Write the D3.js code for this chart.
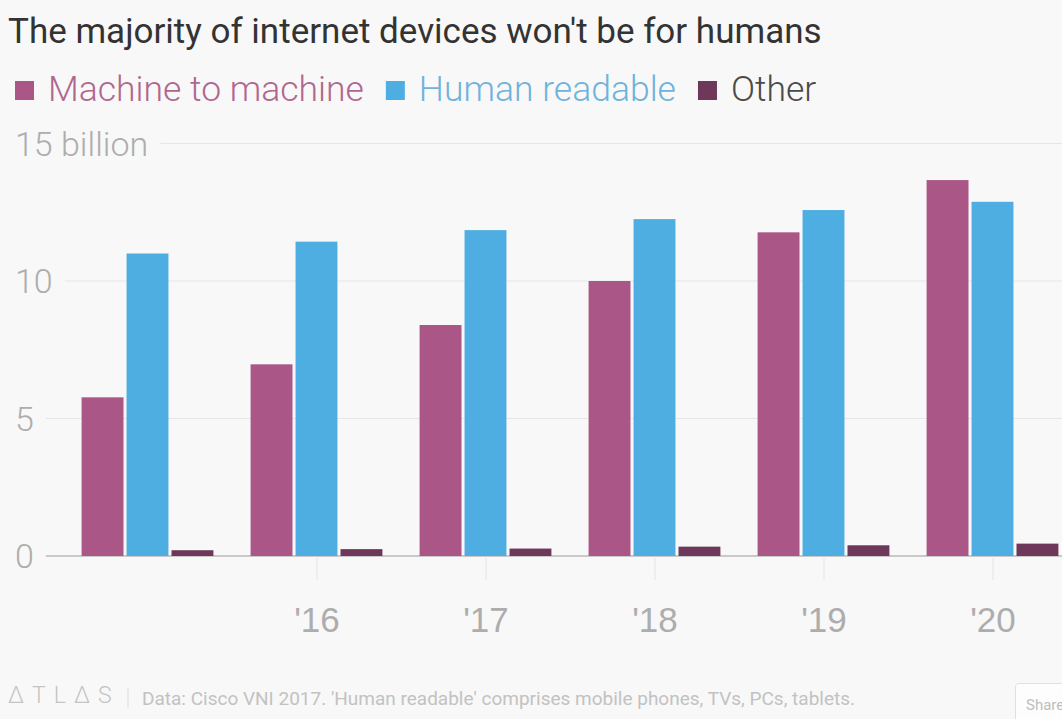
<!DOCTYPE html>
<meta charset="utf-8">
<style>
  body { margin: 0; background: #f8f8f8; }
  svg { display: block; font-family: Roboto, "Open Sans", sans-serif; }
  .ylab, .x-axis text { fill: #adadad; font-weight: 300; font-size: 35px; }
  .x-axis line { stroke: #e4e4e4; }
  .x-axis .domain { display: none; }
</style>
<body>
<svg class="chart"></svg>
<script src="https://d3js.org/d3.v7.min.js"></script>
<script>

  // data
  var years = [2015, 2016, 2017, 2018, 2019, 2020];
  var tickYears = [2016, 2017, 2018, 2019, 2020];
  var yTicks = [0, 5, 10, 15];
  var seriesNames = ["Machine to machine", "Human readable", "Other"];
  var m2m = [5.77, 6.97, 8.4, 10.0, 11.77, 13.67];
  var human = [11.0, 11.43, 11.85, 12.25, 12.58, 12.88];
  var other = [0.21, 0.25, 0.27, 0.34, 0.39, 0.45];

  var colors = ["#aa5686", "#4eaee2", "#6d385a"];
  var legendText = ["#b0678f", "#6fb3dc", "#4a4a4a"];

  var w = 1062, h = 719;

  var chart = d3.select(".chart")
      .attr("width", w)
      .attr("height", h);

  chart.append("rect")
      .attr("width", w)
      .attr("height", h)
      .attr("fill", "#f8f8f8");

  // title
  chart.append("text")
      .attr("x", 8)
      .attr("y", 43)
      .attr("fill", "#333")
      .style("font-size", "35px")
      .text("The majority of internet devices won't be for humans");

  // legend
  var lx = 15;
  seriesNames.forEach(function (name, i) {
      chart.append("rect")
          .attr("x", lx)
          .attr("y", 81)
          .attr("width", 19)
          .attr("height", 19)
          .attr("fill", colors[i]);
      var t = chart.append("text")
          .attr("x", lx + 33)
          .attr("y", 101)
          .attr("fill", legendText[i])
          .style("font-size", "35.5px")
          .style("font-weight", 300)
          .text(name);
      lx = lx + 33 + t.node().getComputedTextLength() + 22;
  });

  // scales
  var y = d3.scaleLinear()
      .domain([0, 15])
      .range([556, 143.5]);

  var x = d3.scaleBand()
      .domain(years)
      .range([63, 1077])
      .paddingInner(0.22)
      .paddingOuter(0.11);

  var xs = d3.scaleBand()
      .domain(d3.range(3))
      .range([0, x.bandwidth()])
      .paddingInner(0.068);

  // y labels + gridlines
  var grid = chart.append("g");
  yTicks.forEach(function (d) {
      var lab = grid.append("text")
          .attr("class", "ylab")
          .attr("x", 15)
          .attr("y", y(d))
          .attr("dy", "0.36em")
          .style("font-size", "34px")
          .text(d == 15 ? "15 billion" : d);
      var x0 = Math.max(15 + lab.node().getComputedTextLength() + 12, 45);
      grid.append("line")
          .attr("x1", x0)
          .attr("x2", w)
          .attr("y1", y(d))
          .attr("y2", y(d))
          .attr("stroke", d == 0 ? "#9a9a9a" : "#e6e6e6")
          .attr("stroke-width", d == 0 ? 1.2 : 1);
  });

  // bars
  var table = years.map(function (yr, i) {
      return { year: yr, vals: [m2m[i], human[i], other[i]] };
  });

  var groups = chart.append("g").selectAll("g")
      .data(table)
      .enter().append("g")
      .attr("transform", function (d) { return "translate(" + x(d.year) + ",0)"; });

  groups.selectAll("rect")
      .data(function (d) { return d.vals; })
      .enter().append("rect")
      .attr("x", function (d, i) { return xs(i); })
      .attr("width", xs.bandwidth())
      .attr("y", function (d) { return y(d); })
      .attr("height", function (d) { return y(0) - y(d); })
      .attr("fill", function (d, i) { return colors[i]; });

  // x axis, ticks at group centres
  var xc = d3.scalePoint()
      .domain(years)
      .range([x(2015) + x.bandwidth() / 2, x(2020) + x.bandwidth() / 2]);

  chart.append("g")
      .attr("class", "x-axis")
      .attr("transform", "translate(0,558)")
      .call(d3.axisBottom(xc)
          .tickValues(tickYears)
          .tickSize(22)
          .tickPadding(27)
          .tickFormat(function (d) { return "'" + String(d).slice(2); }));

  // footer
  chart.append("text")
      .attr("x", 8)
      .attr("y", 703)
      .attr("fill", "#c4c4c4")
      .style("font-size", "23px")
      .style("font-weight", 300)
      .style("letter-spacing", "8px")
      .text("\u0394TL\u0394S");

  chart.append("line")
      .attr("x1", 128).attr("x2", 128)
      .attr("y1", 688).attr("y2", 708)
      .attr("stroke", "#dcdcdc");

  chart.append("text")
      .attr("x", 142)
      .attr("y", 705)
      .attr("fill", "#c2c2c2")
      .style("font-size", "19px")
      .text("Data:  Cisco VNI 2017. 'Human readable' comprises mobile phones, TVs, PCs, tablets.");

  chart.append("rect")
      .attr("x", 1015.5)
      .attr("y", 683.5)
      .attr("width", 70)
      .attr("height", 40)
      .attr("rx", 3)
      .attr("fill", "#fdfdfd")
      .attr("stroke", "#e0e0e0");

  chart.append("text")
      .attr("x", 1026)
      .attr("y", 710)
      .attr("fill", "#bdbdbd")
      .style("font-size", "15px")
      .text("Share");

</script>
</body>
